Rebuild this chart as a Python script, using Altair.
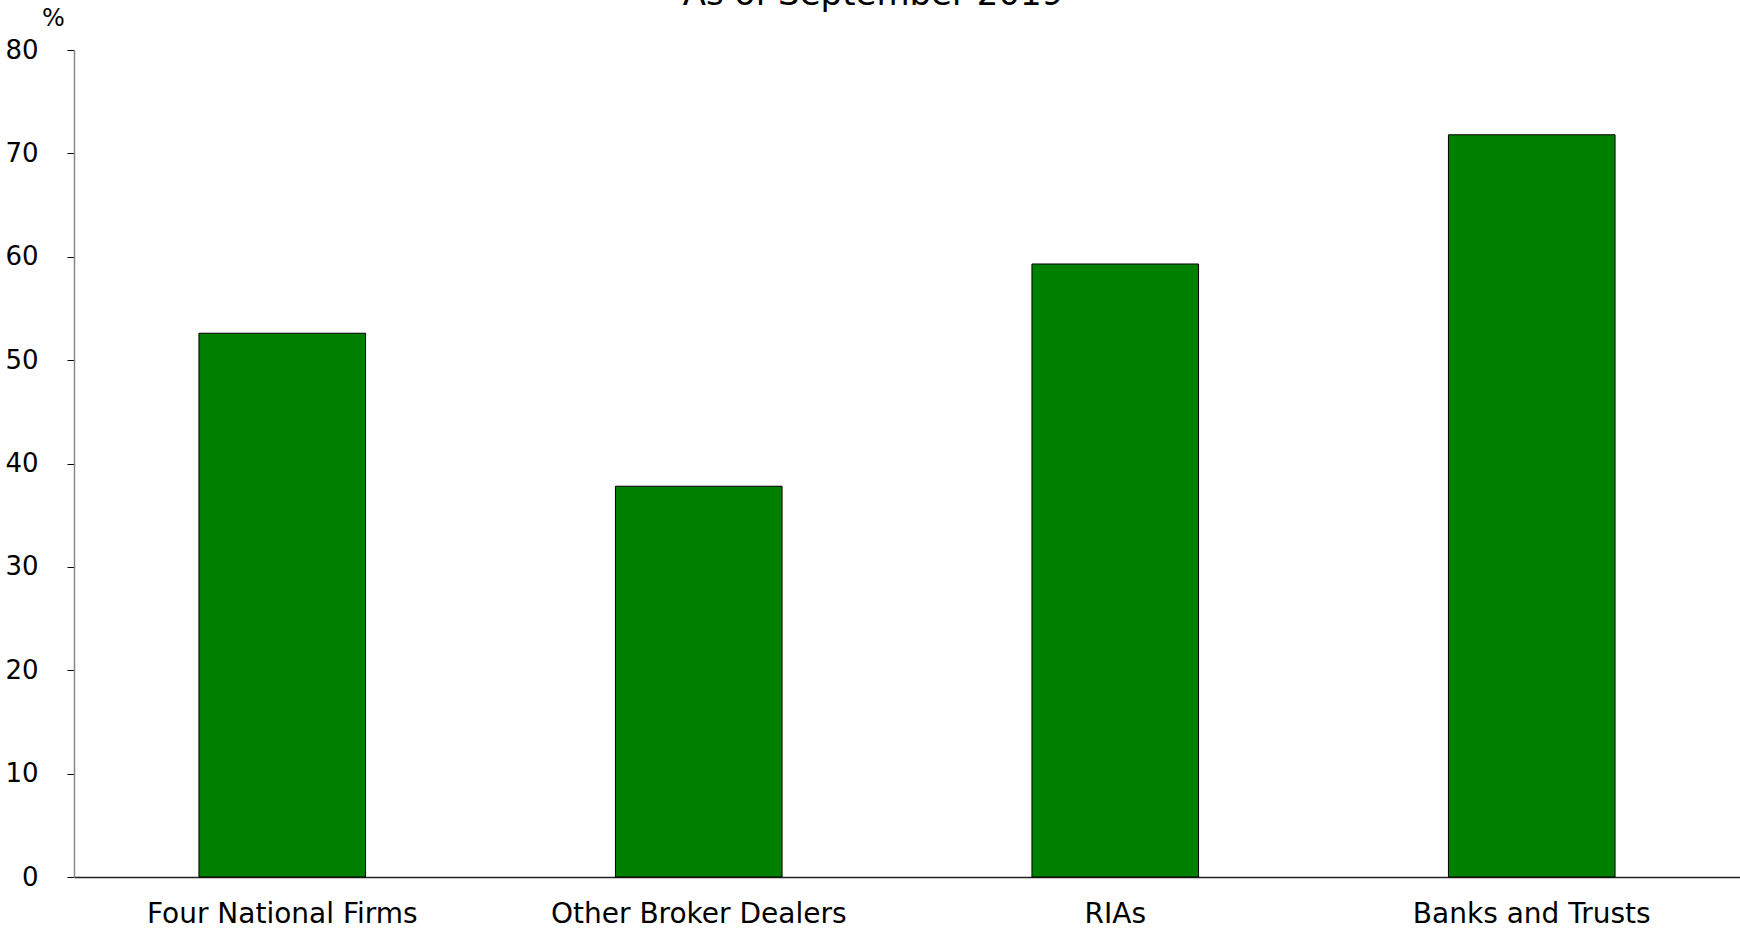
import altair as alt
import pandas as pd

categories = ["Four National Firms", "Other Broker Dealers", "RIAs", "Banks and Trusts"]
values = [52.6, 37.8, 59.3, 71.8]

df = pd.DataFrame({"cat": categories, "val": values})

FONT = "DejaVu Sans"

chart = alt.Chart(df).mark_bar(
    color="#008000", stroke="#000000", strokeWidth=1
).encode(
    x=alt.X("cat:N", sort=categories, title=None,
            scale=alt.Scale(paddingInner=0.6, paddingOuter=0.3),
            axis=alt.Axis(labelAngle=0, labelFontSize=28, labelFont=FONT, labelColor="#000",
                          labelLimit=0,
                          ticks=False, labelPadding=23, domainColor="#222", domainWidth=1.5)),
    y=alt.Y("val:Q", scale=alt.Scale(domain=[0, 80]),
            axis=alt.Axis(values=[0, 10, 20, 30, 40, 50, 60, 70, 80], grid=False,
                          labelFontSize=26, labelFont=FONT, labelColor="#000",
                          tickSize=7, tickColor="#000", labelPadding=29,
                          domainColor="#888", domainWidth=1.5,
                          title="%", titleAngle=0, titleX=-21, titleY=-25,
                          titleAlign="center", titleBaseline="alphabetic",
                          titleFont=FONT, titleFontSize=24, titleFontWeight="normal",
                          titleColor="#000")),
).properties(
    width=1666, height=827,
    title=alt.TitleParams("As of September 2019", font=FONT, fontSize=34,
                          fontWeight="normal", color="#000", anchor="middle",
                          offset=0, dy=6, dx=-34),
    autosize="none",
    padding={"left": 74, "top": 50, "right": 0, "bottom": 52},
).configure_view(stroke=None)

chart.save("out.html", embed_options={"renderer": "svg", "actions": False})
